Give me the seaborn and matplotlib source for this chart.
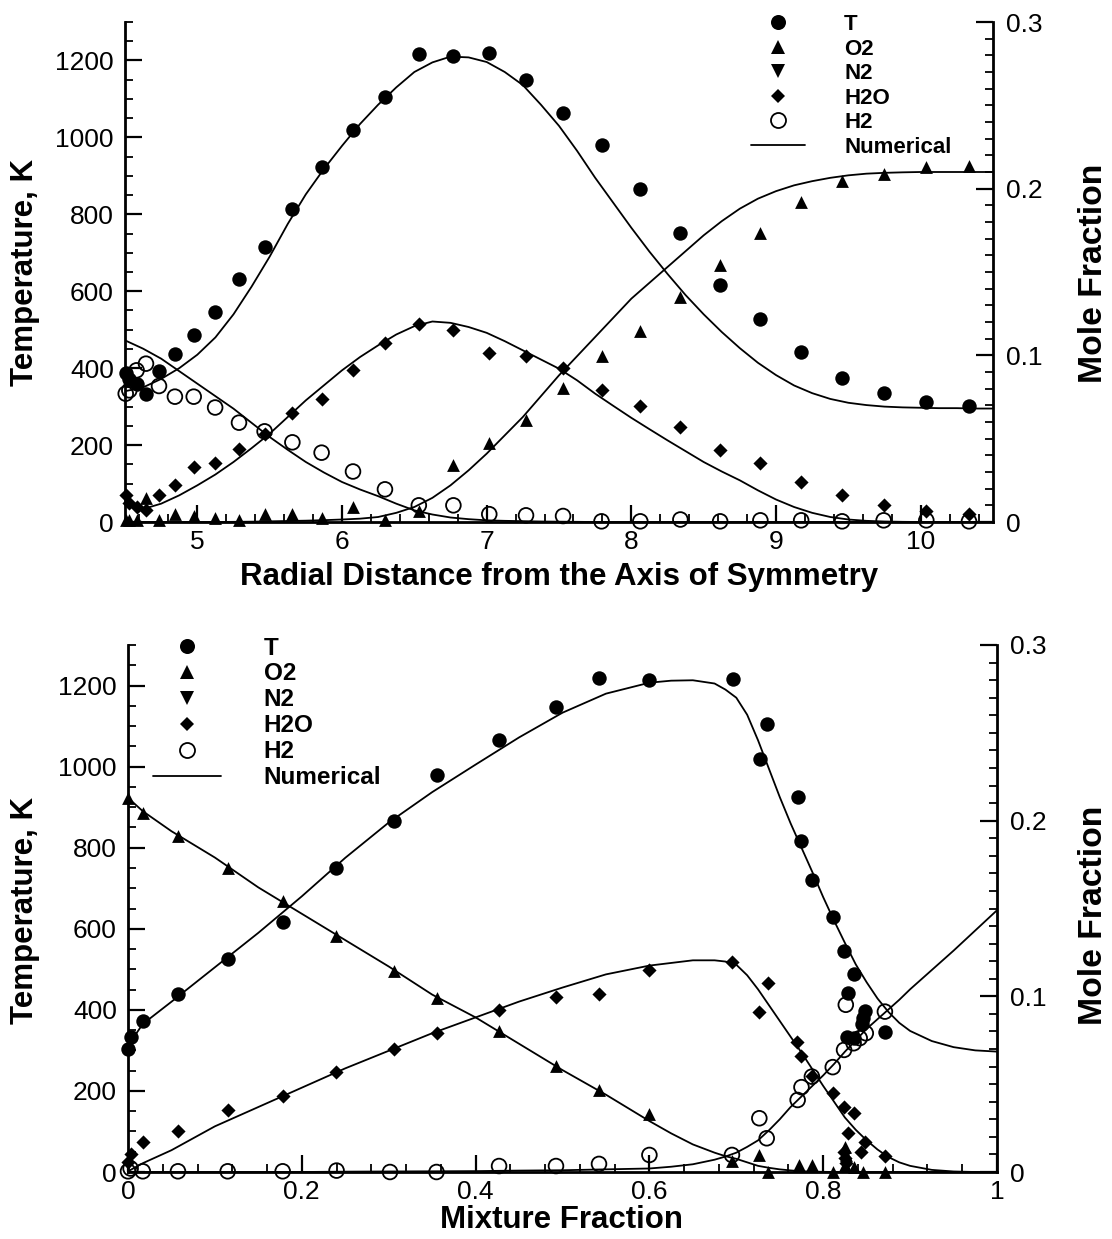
import numpy as np
import pandas as pd
import matplotlib
matplotlib.use("Agg")
import matplotlib.pyplot as plt
import seaborn as sns
from matplotlib.lines import Line2D
from matplotlib.ticker import MultipleLocator, FuncFormatter

# ---------------- data: top panel (radial distance) ----------------
r_exp = [4.505, 4.53, 4.58, 4.645, 4.735, 4.845, 4.975, 5.123, 5.288, 5.465,
         5.657, 5.859, 6.076, 6.297, 6.531, 6.770, 7.018, 7.272, 7.528, 7.794,
         8.062, 8.339, 8.614, 8.892, 9.174, 9.457, 9.744, 10.039, 10.334]
T_exp_r = [388, 372, 358, 332, 393, 438, 487, 546, 631, 716,
           814, 922, 1018, 1105, 1216, 1212, 1220, 1149, 1064, 980,
           865, 751, 617, 527, 441, 374, 335, 312, 302]
O2_exp_r = [0.001, 0.001, 0.001, 0.0143, 0.0015, 0.0047, 0.0036, 0.0026, 0.0015, 0.0047,
            0.0047, 0.0026, 0.0090, 0.0011, 0.0068, 0.0342, 0.0474, 0.0612, 0.0805, 0.0997,
            0.1146, 0.1349, 0.1541, 0.1734, 0.1919, 0.2047, 0.2086, 0.2129, 0.2139]
H2O_exp_r = [0.0164, 0.0112, 0.0090, 0.0072, 0.0162, 0.0222, 0.0331, 0.0355, 0.0441, 0.0530,
             0.0655, 0.0737, 0.0912, 0.1072, 0.1189, 0.1151, 0.1014, 0.0997, 0.0922, 0.0794,
             0.0698, 0.0570, 0.0431, 0.0357, 0.0239, 0.0164, 0.0100, 0.0068, 0.0047]
H2_exp_r = [0.077, 0.079, 0.091, 0.095, 0.0816, 0.0752, 0.0752, 0.0687, 0.0596, 0.0544,
            0.0478, 0.0416, 0.0303, 0.0196, 0.0100, 0.0100, 0.0047, 0.0040, 0.0036, 0.0004,
            0.0004, 0.0015, 0.0004, 0.0010, 0.0010, 0.0004, 0.0010, 0.0010, 0.0004]

r_num = [4.5, 4.625, 4.75, 4.875, 5.0, 5.125, 5.25, 5.375, 5.5, 5.625, 5.75, 5.875,
         6.0, 6.125, 6.25, 6.375, 6.5, 6.625, 6.75, 6.875, 7.0, 7.125, 7.25, 7.375,
         7.5, 7.625, 7.75, 7.875, 8.0, 8.125, 8.25, 8.375, 8.5, 8.625, 8.75, 8.875,
         9.0, 9.125, 9.25, 9.375, 9.5, 9.625, 9.75, 9.875, 10.0, 10.125, 10.25, 10.375, 10.5]
T_num_r = [340, 350, 372, 400, 435, 480, 540, 612, 690, 775, 852, 918,
           978, 1035, 1085, 1130, 1170, 1195, 1210, 1208, 1196, 1170, 1136, 1085,
           1030, 965, 895, 830, 765, 703, 645, 590, 540, 494, 452, 414,
           382, 355, 335, 320, 310, 304, 300, 298, 297, 296, 296, 295, 295]
O2_num_r = [0.0, 0.0, 0.0, 0.0, 0.0, 0.0, 0.0001, 0.0002, 0.0004, 0.0006, 0.0008, 0.0011,
            0.0015, 0.002, 0.003, 0.0055, 0.009, 0.0145, 0.022, 0.031, 0.041, 0.052, 0.063, 0.0755,
            0.088, 0.0995, 0.111, 0.1225, 0.134, 0.1435, 0.153, 0.1625, 0.172, 0.1805, 0.188, 0.194,
            0.1985, 0.202, 0.2045, 0.2065, 0.208, 0.209, 0.2095, 0.2098, 0.21, 0.21, 0.21, 0.21, 0.21]
H2O_num_r = [0.012, 0.0078, 0.011, 0.016, 0.022, 0.0285, 0.036, 0.0443, 0.053, 0.063, 0.073, 0.082,
             0.091, 0.099, 0.106, 0.1125, 0.1175, 0.1203, 0.1195, 0.117, 0.1135, 0.1085, 0.103, 0.0975,
             0.092, 0.085, 0.077, 0.0697, 0.0625, 0.0557, 0.049, 0.0425, 0.036, 0.0303, 0.025, 0.019,
             0.0135, 0.009, 0.0055, 0.003, 0.0015, 0.0007, 0.0003, 0.0001, 0.0, 0.0, 0.0, 0.0, 0.0]
H2_num_r = [0.109, 0.104, 0.098, 0.0905, 0.083, 0.0755, 0.068, 0.0595, 0.051, 0.0433, 0.036, 0.0297,
            0.024, 0.0195, 0.0155, 0.011, 0.007, 0.0045, 0.0027, 0.0017, 0.001, 0.0007, 0.0005, 0.0003,
            0.0002, 0.0001, 0.0, 0.0, 0.0, 0.0, 0.0, 0.0, 0.0, 0.0, 0.0, 0.0,
            0.0, 0.0, 0.0, 0.0, 0.0, 0.0, 0.0, 0.0, 0.0, 0.0, 0.0, 0.0, 0.0]

# ---------------- data: bottom panel (mixture fraction) ----------------
Z_T = [0.0, 0.003, 0.017, 0.0575, 0.1147, 0.178, 0.239, 0.306, 0.356, 0.427, 0.492, 0.542, 0.600,
       0.696, 0.727, 0.735, 0.771, 0.775, 0.787, 0.811, 0.824, 0.835, 0.829, 0.848, 0.846, 0.845,
       0.827, 0.836, 0.871]
T_exp_z = [304, 333, 372, 439, 526, 616, 750, 865, 980, 1065, 1147, 1219, 1214,
           1216, 1020, 1105, 925, 817, 720, 630, 545, 489, 441, 396, 380, 364,
           333, 330, 346]
Z_O2 = [0.0, 0.017, 0.0575, 0.1147, 0.178, 0.239, 0.306, 0.356, 0.427, 0.492, 0.542, 0.600,
        0.695, 0.7265, 0.737, 0.7725, 0.787, 0.811, 0.825, 0.826, 0.825, 0.835, 0.846, 0.871]
O2_exp_z = [0.213, 0.2043, 0.1912, 0.1731, 0.1542, 0.1345, 0.1143, 0.099, 0.080, 0.0604, 0.0467, 0.0331,
            0.0064, 0.0097, 0.0, 0.004, 0.004, 0.0, 0.0144, 0.0097, 0.004, 0.003, 0.0, 0.0]
Z_H2O = [0.0, 0.003, 0.017, 0.0575, 0.1147, 0.178, 0.239, 0.306, 0.356, 0.427, 0.492, 0.542, 0.600,
         0.695, 0.737, 0.7265, 0.7695, 0.7745, 0.787, 0.811, 0.824, 0.835, 0.829, 0.848, 0.844,
         0.871, 0.824, 0.825, 0.826]
H2O_exp_z = [0.0059, 0.0102, 0.0168, 0.0233, 0.0353, 0.043, 0.0567, 0.0702, 0.0794, 0.092, 0.0997, 0.1012, 0.1149,
             0.1198, 0.1075, 0.0913, 0.0742, 0.066, 0.0547, 0.0448, 0.0372, 0.0334, 0.0224, 0.0173, 0.0116,
             0.0091, 0.0116, 0.0078, 0.005]
Z_H2 = [0.0, 0.003, 0.017, 0.0575, 0.1147, 0.178, 0.240, 0.3015, 0.355, 0.427, 0.4925, 0.542, 0.600,
        0.695, 0.7265, 0.735, 0.7706, 0.775, 0.787, 0.811, 0.824, 0.826, 0.835, 0.842, 0.849, 0.871]
H2_exp_z = [0.0004, 0.002, 0.0004, 0.0004, 0.0004, 0.0004, 0.0008, 0.0, 0.0, 0.0034, 0.0034, 0.0046, 0.0097,
            0.0097, 0.0306, 0.0192, 0.041, 0.0483, 0.0543, 0.0597, 0.0695, 0.0952, 0.0733, 0.0762, 0.079, 0.0913]

Z_num = [0.0, 0.017, 0.05, 0.1, 0.15, 0.2, 0.25, 0.3, 0.35, 0.4, 0.45, 0.5, 0.55, 0.6,
         0.625, 0.65, 0.675, 0.6875, 0.7, 0.7125, 0.725, 0.7375, 0.75, 0.7625, 0.775, 0.7875,
         0.8, 0.8125, 0.825, 0.8375, 0.85, 0.8625, 0.875, 0.8875, 0.9, 0.925, 0.95, 0.975, 1.0]
T_num_z = [312, 365, 420, 505, 590, 680, 775, 862, 937, 1005, 1072, 1133, 1180, 1207,
           1212, 1213, 1205, 1190, 1170, 1128, 1065, 995, 925, 860, 800, 740,
           678, 620, 565, 512, 468, 428, 395, 368, 348, 323, 308, 300, 297]
O2_num_z = [0.213, 0.2054, 0.194, 0.179, 0.162, 0.147, 0.132, 0.117, 0.101, 0.088, 0.073, 0.058, 0.044, 0.029,
            0.022, 0.0157, 0.011, 0.009, 0.0075, 0.0055, 0.0035, 0.0024, 0.0015, 0.0009, 0.0004, 0.0002,
            0.0001, 0.0, 0.0, 0.0, 0.0, 0.0, 0.0, 0.0, 0.0, 0.0, 0.0, 0.0, 0.0]
H2O_num_z = [0.0004, 0.005, 0.0124, 0.026, 0.037, 0.048, 0.059, 0.069, 0.079, 0.088, 0.097, 0.105, 0.1125, 0.1175,
             0.119, 0.1205, 0.1205, 0.1198, 0.118, 0.112, 0.104, 0.095, 0.086, 0.077, 0.068, 0.0585,
             0.049, 0.040, 0.031, 0.024, 0.018, 0.0128, 0.0085, 0.0055, 0.0035, 0.0012, 0.0003, 0.0, 0.0]
H2_num_z = [0.0, 0.0, 0.0, 0.0, 0.0, 0.0, 0.0002, 0.0003, 0.0004, 0.0005, 0.0008, 0.001, 0.0015, 0.002,
            0.003, 0.0044, 0.007, 0.0088, 0.011, 0.0143, 0.018, 0.0237, 0.030, 0.037, 0.043, 0.049,
            0.055, 0.0615, 0.0685, 0.075, 0.0815, 0.087, 0.0925, 0.098, 0.104, 0.115, 0.126, 0.1375, 0.149]

legend_labels = ["T", "O2", "N2", "H2O", "H2", "Numerical"]
top_xticks = [5, 6, 7, 8, 9, 10]
bot_xticks = [0, 0.2, 0.4, 0.6, 0.8, 1]

# ---------------- style ----------------
sns.set_theme(style="white", rc={"axes.edgecolor": "black", "text.color": "black",
                                 "xtick.color": "black", "ytick.color": "black",
                                 "axes.labelcolor": "black"})
plt.rcParams["font.family"] = ["Liberation Sans", "DejaVu Sans"]

W, H = 1112, 1239
fig = plt.figure(figsize=(W / 100, H / 100), dpi=100)
ax_top = fig.add_axes([125 / W, 1 - 522 / H, 868 / W, 500 / H])
ax_bot = fig.add_axes([128 / W, 1 - 1172 / H, 869 / W, 527 / H])

LW = 1.3
MS = dict(o=108, tri=85, dia=52, circ=112)


def scat(ax, x, y, marker, s, open_=False):
    sns.scatterplot(x=x, y=y, ax=ax, marker=marker, s=s, color="black",
                    edgecolor="black", linewidth=0 if not open_ else 1.2,
                    clip_on=False, zorder=3, legend=False)
    coll = ax.collections[-1]
    if open_:
        coll.set_facecolor("none")
        coll.set_edgecolor("black")
        coll.set_linewidth(1.3)


def line(ax, x, y):
    sns.lineplot(x=x, y=y, ax=ax, color="black", linewidth=LW, legend=False,
                 estimator=None, sort=False)


def style_panel(ax, axr, xlim, xminor, xticks):
    ax.set_xlim(*xlim)
    ax.set_ylim(0, 1300)
    axr.set_ylim(0, 0.3)
    ax.set_xticks(xticks)
    ax.xaxis.set_minor_locator(MultipleLocator(xminor))
    ax.xaxis.set_major_formatter(FuncFormatter(lambda v, p: "%g" % v))
    ax.yaxis.set_major_locator(MultipleLocator(200))
    ax.yaxis.set_minor_locator(MultipleLocator(50))
    axr.yaxis.set_major_locator(MultipleLocator(0.1))
    axr.yaxis.set_minor_locator(MultipleLocator(0.01))
    axr.yaxis.set_major_formatter(FuncFormatter(lambda v, p: "%g" % round(v, 3)))
    for a in (ax, axr):
        a.set_xlabel("")
        a.set_ylabel("")
        a.spines["top"].set_visible(False)
        for sp in ("left", "right", "bottom"):
            a.spines[sp].set_linewidth(2.0)
            a.spines[sp].set_color("black")
    ax.spines["right"].set_visible(False)
    axr.spines["left"].set_visible(False)
    axr.spines["bottom"].set_visible(False)
    ax.tick_params(axis="both", which="major", direction="in", length=12, width=1.6,
                   labelsize=19, pad=8, top=False, right=False, bottom=True, left=True)
    ax.tick_params(axis="both", which="minor", direction="in", length=6, width=1.3,
                   top=False, right=False, bottom=True, left=True)
    ax.tick_params(axis="x", which="major", pad=6)
    axr.tick_params(axis="y", which="major", direction="in", length=12, width=1.6,
                    labelsize=19, pad=9, left=False, right=True)
    axr.tick_params(axis="y", which="minor", direction="in", length=6, width=1.3,
                    left=False, right=True)
    axr.tick_params(axis="x", which="both", bottom=False, top=False, labelbottom=False)


def make_legend(axr, anchor, fs, hlen, htp, lsp, msc):
    handles = [
        Line2D([], [], ls="none", marker="o", ms=10.3 * msc, mfc="black", mec="black", mew=0),
        Line2D([], [], ls="none", marker="^", ms=9.0 * msc, mfc="black", mec="black", mew=0),
        Line2D([], [], ls="none", marker="v", ms=9.0 * msc, mfc="black", mec="black", mew=0),
        Line2D([], [], ls="none", marker="D", ms=7.0 * msc, mfc="black", mec="black", mew=0),
        Line2D([], [], ls="none", marker="o", ms=10.3 * msc, mfc="none", mec="black", mew=1.3),
        Line2D([], [], color="black", lw=LW),
    ]
    leg = axr.legend(handles=handles, labels=legend_labels, loc="upper left",
                     bbox_to_anchor=anchor, frameon=False, borderpad=0, borderaxespad=0,
                     handlelength=hlen, handletextpad=htp, labelspacing=lsp,
                     prop={"weight": "bold", "size": fs, "family": ["Liberation Sans"]})
    leg.set_zorder(10)
    return leg


# ---------------- top panel ----------------
ax_top_r = ax_top.twinx()
line(ax_top, r_num, T_num_r)
scat(ax_top, r_exp, T_exp_r, "o", MS["o"])
line(ax_top_r, r_num, O2_num_r)
line(ax_top_r, r_num, H2O_num_r)
line(ax_top_r, r_num, H2_num_r)
scat(ax_top_r, r_exp, O2_exp_r, "^", MS["tri"])
scat(ax_top_r, r_exp, H2O_exp_r, "D", MS["dia"])
scat(ax_top_r, r_exp, H2_exp_r, "o", MS["circ"], open_=True)
style_panel(ax_top, ax_top_r, (4.5, 10.5), 0.2, top_xticks)
make_legend(ax_top_r, (0.721, 1.016), 16, 2.45, 1.75, 0.16, 1.05)

# ---------------- bottom panel ----------------
ax_bot_r = ax_bot.twinx()
line(ax_bot, Z_num, T_num_z)
scat(ax_bot, Z_T, T_exp_z, "o", MS["o"])
line(ax_bot_r, Z_num, O2_num_z)
line(ax_bot_r, Z_num, H2O_num_z)
line(ax_bot_r, Z_num, H2_num_z)
scat(ax_bot_r, Z_O2, O2_exp_z, "^", MS["tri"])
scat(ax_bot_r, Z_H2O, H2O_exp_z, "D", MS["dia"])
scat(ax_bot_r, Z_H2, H2_exp_z, "o", MS["circ"], open_=True)
style_panel(ax_bot, ax_bot_r, (0, 1), 0.04, bot_xticks)
make_legend(ax_bot_r, (0.029, 1.016), 17.5, 2.8, 1.75, 0.12, 1.05)

# ---------------- axis titles ----------------
lab = dict(fontsize=22.5, fontweight="bold", ha="center", va="center")
fig.text(559 / W, 1 - 577 / H, "Radial Distance from the Axis of Symmetry", **lab)
fig.text(562 / W, 1 - 1220 / H, "Mixture Fraction", **lab)
fig.text(25 / W, 1 - 272 / H, "Temperature, K", rotation=90, **lab)
fig.text(25 / W, 1 - 910 / H, "Temperature, K", rotation=90, **lab)
lab_mf = dict(lab, fontsize=24.3)
fig.text(1093 / W, 1 - 273 / H, "Mole Fraction", rotation=90, **lab_mf)
fig.text(1093 / W, 1 - 915 / H, "Mole Fraction", rotation=90, **lab_mf)

fig.savefig("out.png", dpi=100, facecolor="white")
